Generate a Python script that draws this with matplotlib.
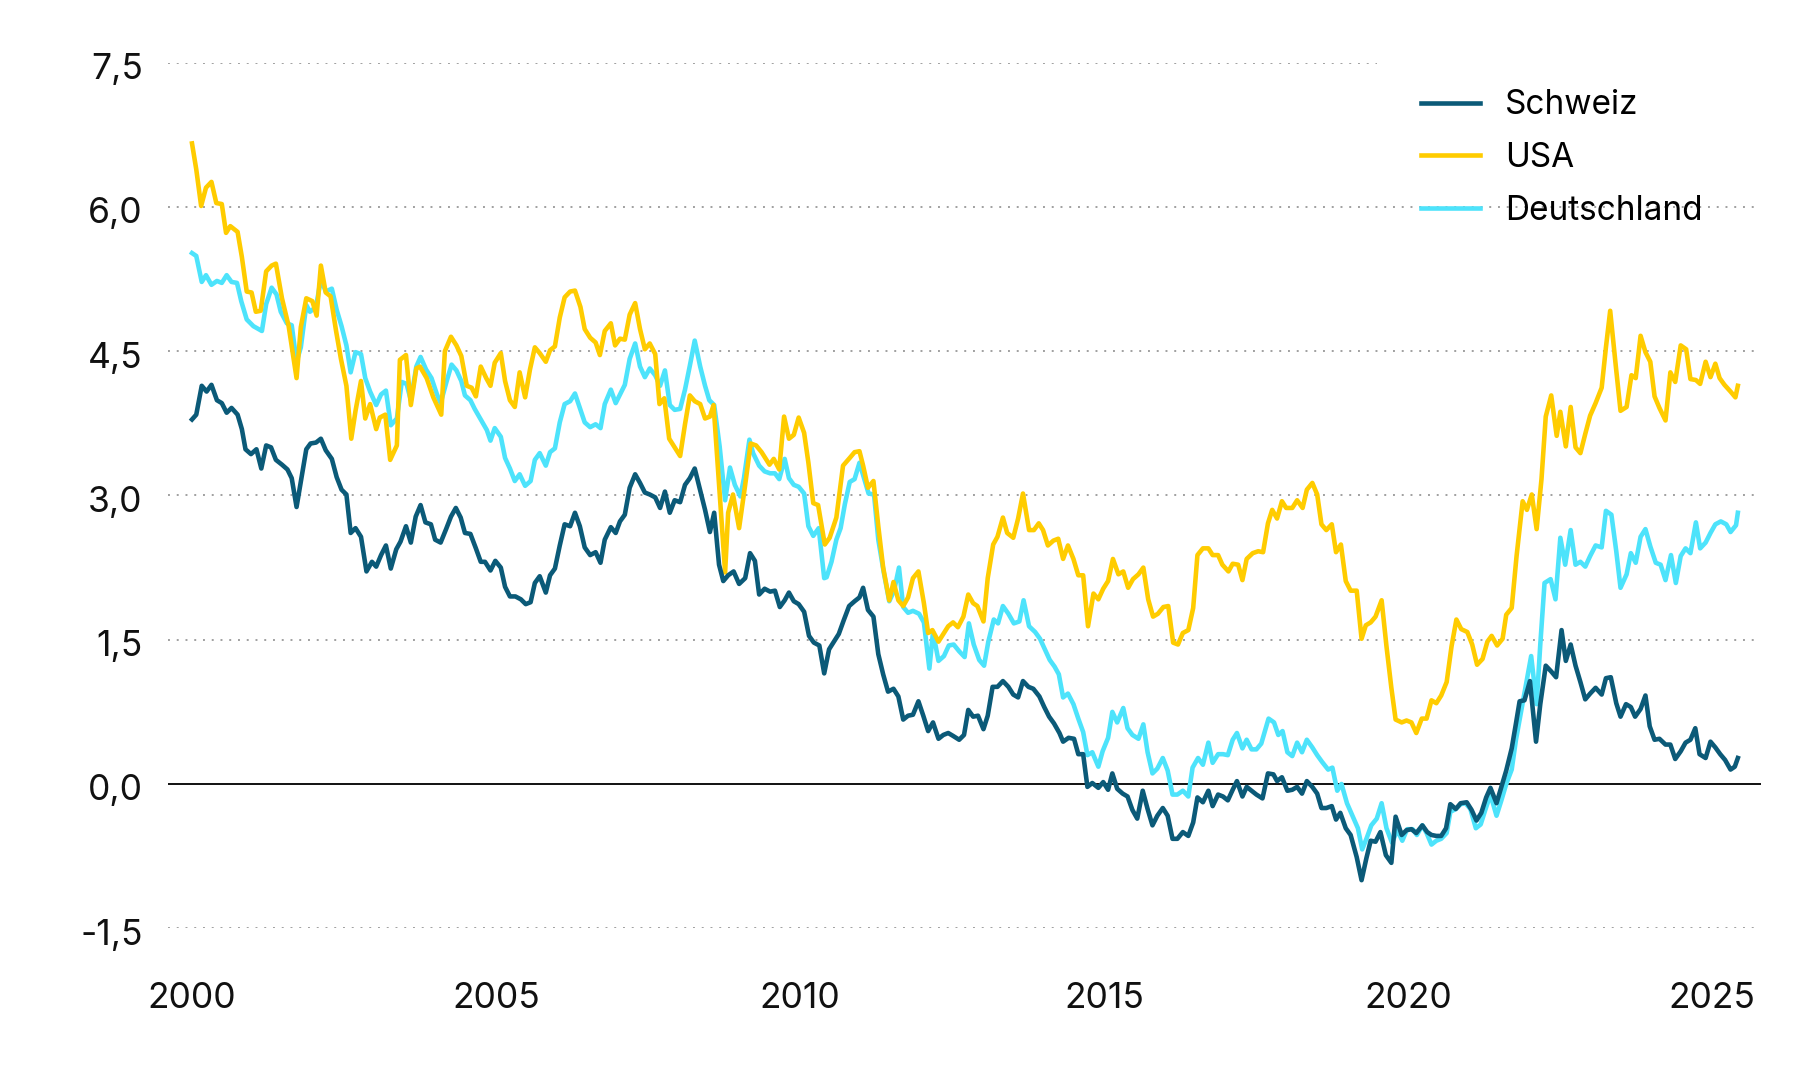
import matplotlib
matplotlib.use("Agg")
import matplotlib.pyplot as plt
import matplotlib.transforms as mtransforms

ch_year = [2000.00, 2000.07, 2000.16, 2000.24, 2000.32, 2000.41, 2000.49, 2000.57, 2000.65, 2000.75,
           2000.82, 2000.88, 2000.97, 2001.06, 2001.14, 2001.22, 2001.30, 2001.38, 2001.48, 2001.57,
           2001.64, 2001.72, 2001.79, 2001.88, 2001.95, 2002.04, 2002.12, 2002.20, 2002.30, 2002.38,
           2002.46, 2002.54, 2002.61, 2002.69, 2002.78, 2002.87, 2002.96, 2003.03, 2003.11, 2003.19,
           2003.27, 2003.36, 2003.43, 2003.52, 2003.60, 2003.68, 2003.76, 2003.84, 2003.93, 2004.00,
           2004.09, 2004.18, 2004.26, 2004.34, 2004.42, 2004.49, 2004.58, 2004.67, 2004.75, 2004.82,
           2004.91, 2004.99, 2005.08, 2005.15, 2005.23, 2005.32, 2005.41, 2005.49, 2005.57, 2005.64,
           2005.72, 2005.82, 2005.89, 2005.97, 2006.05, 2006.13, 2006.22, 2006.30, 2006.38, 2006.46,
           2006.55, 2006.64, 2006.72, 2006.79, 2006.89, 2006.97, 2007.04, 2007.12, 2007.20, 2007.29,
           2007.37, 2007.45, 2007.53, 2007.62, 2007.70, 2007.78, 2007.86, 2007.94, 2008.03, 2008.11,
           2008.19, 2008.27, 2008.36, 2008.44, 2008.52, 2008.59, 2008.67, 2008.74, 2008.82, 2008.91,
           2009.00, 2009.10, 2009.18, 2009.26, 2009.33, 2009.42, 2009.51, 2009.59, 2009.67, 2009.75,
           2009.82, 2009.90, 2009.98, 2010.07, 2010.15, 2010.23, 2010.32, 2010.40, 2010.48, 2010.56,
           2010.64, 2010.72, 2010.81, 2010.90, 2010.98, 2011.04, 2011.12, 2011.21, 2011.29, 2011.37,
           2011.45, 2011.54, 2011.62, 2011.70, 2011.78, 2011.86, 2011.95, 2012.03, 2012.11, 2012.19,
           2012.28, 2012.36, 2012.44, 2012.52, 2012.62, 2012.70, 2012.77, 2012.85, 2012.93, 2013.02,
           2013.09, 2013.17, 2013.25, 2013.34, 2013.43, 2013.51, 2013.59, 2013.67, 2013.76, 2013.84,
           2013.94, 2014.02, 2014.10, 2014.18, 2014.27, 2014.33, 2014.42, 2014.51, 2014.58, 2014.66,
           2014.73, 2014.81, 2014.91, 2014.99, 2015.07, 2015.14, 2015.22, 2015.31, 2015.39, 2015.47,
           2015.55, 2015.64, 2015.72, 2015.80, 2015.88, 2015.97, 2016.05, 2016.13, 2016.21, 2016.30,
           2016.39, 2016.47, 2016.54, 2016.63, 2016.72, 2016.79, 2016.88, 2016.96, 2017.04, 2017.12,
           2017.19, 2017.28, 2017.35, 2017.43, 2017.51, 2017.61, 2017.70, 2017.79, 2017.85, 2017.93,
           2018.02, 2018.10, 2018.18, 2018.26, 2018.34, 2018.43, 2018.51, 2018.58, 2018.66, 2018.75,
           2018.82, 2018.89, 2018.98, 2019.06, 2019.16, 2019.24, 2019.32, 2019.39, 2019.47, 2019.55,
           2019.64, 2019.73, 2019.80, 2019.90, 2019.98, 2020.06, 2020.14, 2020.24, 2020.32, 2020.39,
           2020.47, 2020.55, 2020.63, 2020.70, 2020.79, 2020.87, 2020.97, 2021.05, 2021.13, 2021.21,
           2021.29, 2021.36, 2021.46, 2021.54, 2021.62, 2021.71, 2021.78, 2021.84, 2021.92, 2022.01,
           2022.11, 2022.18, 2022.27, 2022.36, 2022.44, 2022.53, 2022.60, 2022.68, 2022.76, 2022.84,
           2022.92, 2023.00, 2023.09, 2023.19, 2023.26, 2023.34, 2023.43, 2023.50, 2023.59, 2023.67,
           2023.74, 2023.83, 2023.91, 2023.98, 2024.06, 2024.14, 2024.24, 2024.32, 2024.40, 2024.49,
           2024.57, 2024.65, 2024.73, 2024.80, 2024.90, 2024.98, 2025.06, 2025.14, 2025.22, 2025.31,
           2025.38, 2025.43]
ch_val = [3.79, 3.84, 4.14, 4.08, 4.15, 3.99, 3.96, 3.86, 3.91, 3.84,
          3.69, 3.48, 3.43, 3.48, 3.28, 3.52, 3.50, 3.37, 3.32, 3.27,
          3.18, 2.88, 3.14, 3.48, 3.54, 3.55, 3.59, 3.47, 3.38, 3.19,
          3.06, 3.01, 2.61, 2.66, 2.57, 2.21, 2.31, 2.26, 2.38, 2.48,
          2.24, 2.44, 2.52, 2.68, 2.51, 2.78, 2.90, 2.72, 2.70, 2.54,
          2.51, 2.65, 2.78, 2.87, 2.77, 2.61, 2.60, 2.45, 2.31, 2.31,
          2.22, 2.32, 2.25, 2.05, 1.95, 1.95, 1.92, 1.87, 1.89, 2.09,
          2.16, 1.99, 2.17, 2.24, 2.48, 2.70, 2.68, 2.82, 2.68, 2.46,
          2.38, 2.41, 2.30, 2.54, 2.67, 2.61, 2.73, 2.80, 3.08, 3.22,
          3.13, 3.03, 3.01, 2.98, 2.87, 3.04, 2.82, 2.95, 2.93, 3.11,
          3.18, 3.28, 3.05, 2.85, 2.62, 2.82, 2.28, 2.11, 2.17, 2.21,
          2.08, 2.14, 2.40, 2.32, 1.97, 2.03, 2.00, 2.01, 1.84, 1.91,
          1.99, 1.90, 1.87, 1.79, 1.54, 1.47, 1.44, 1.15, 1.40, 1.48,
          1.56, 1.70, 1.85, 1.90, 1.94, 2.04, 1.81, 1.74, 1.35, 1.14,
          0.96, 0.99, 0.91, 0.67, 0.71, 0.72, 0.86, 0.71, 0.55, 0.64,
          0.47, 0.51, 0.53, 0.50, 0.46, 0.51, 0.77, 0.70, 0.71, 0.57,
          0.71, 1.01, 1.01, 1.07, 1.01, 0.93, 0.90, 1.07, 1.01, 0.99,
          0.91, 0.80, 0.70, 0.63, 0.53, 0.44, 0.48, 0.47, 0.31, 0.31,
          -0.03, 0.01, -0.04, 0.02, -0.06, 0.11, -0.05, -0.10, -0.13, -0.27,
          -0.36, -0.07, -0.26, -0.43, -0.33, -0.25, -0.33, -0.57, -0.57, -0.50,
          -0.54, -0.40, -0.14, -0.19, -0.07, -0.23, -0.11, -0.13, -0.17, -0.06,
          0.03, -0.13, -0.03, -0.07, -0.11, -0.15, 0.11, 0.10, 0.03, 0.07,
          -0.07, -0.06, -0.03, -0.10, 0.03, -0.03, -0.10, -0.25, -0.25, -0.23,
          -0.37, -0.30, -0.46, -0.53, -0.76, -1.00, -0.77, -0.59, -0.60, -0.50,
          -0.74, -0.82, -0.34, -0.53, -0.48, -0.47, -0.51, -0.43, -0.50, -0.53,
          -0.54, -0.54, -0.46, -0.21, -0.26, -0.20, -0.19, -0.27, -0.38, -0.30,
          -0.14, -0.04, -0.20, -0.03, 0.14, 0.37, 0.63, 0.86, 0.87, 1.07,
          0.44, 0.83, 1.23, 1.17, 1.11, 1.60, 1.28, 1.45, 1.23, 1.06,
          0.88, 0.94, 1.00, 0.93, 1.10, 1.11, 0.84, 0.70, 0.83, 0.80,
          0.70, 0.78, 0.92, 0.60, 0.46, 0.47, 0.41, 0.41, 0.26, 0.34,
          0.43, 0.46, 0.58, 0.31, 0.27, 0.44, 0.38, 0.31, 0.25, 0.15,
          0.18, 0.27]

us_year = [2000.00, 2000.07, 2000.15, 2000.23, 2000.32, 2000.40, 2000.49, 2000.56, 2000.63, 2000.75,
           2000.82, 2000.90, 2000.98, 2001.05, 2001.13, 2001.22, 2001.31, 2001.38, 2001.48, 2001.59,
           2001.72, 2001.79, 2001.88, 2001.98, 2002.05, 2002.12, 2002.20, 2002.28, 2002.37, 2002.45,
           2002.54, 2002.62, 2002.69, 2002.78, 2002.85, 2002.93, 2003.03, 2003.09, 2003.18, 2003.26,
           2003.37, 2003.42, 2003.52, 2003.60, 2003.69, 2003.75, 2003.86, 2003.97, 2004.10, 2004.16,
           2004.26, 2004.35, 2004.43, 2004.52, 2004.60, 2004.67, 2004.75, 2004.84, 2004.91, 2004.98,
           2005.08, 2005.15, 2005.23, 2005.31, 2005.39, 2005.48, 2005.56, 2005.64, 2005.72, 2005.82,
           2005.89, 2005.97, 2006.05, 2006.13, 2006.22, 2006.30, 2006.39, 2006.46, 2006.55, 2006.64,
           2006.71, 2006.79, 2006.89, 2006.96, 2007.04, 2007.12, 2007.20, 2007.29, 2007.37, 2007.45,
           2007.53, 2007.62, 2007.69, 2007.77, 2007.85, 2007.94, 2008.03, 2008.11, 2008.19, 2008.27,
           2008.36, 2008.44, 2008.52, 2008.58, 2008.77, 2008.82, 2008.90, 2009.00, 2009.10, 2009.19,
           2009.28, 2009.37, 2009.50, 2009.57, 2009.66, 2009.74, 2009.82, 2009.90, 2009.98, 2010.07,
           2010.14, 2010.22, 2010.30, 2010.41, 2010.49, 2010.60, 2010.71, 2010.82, 2010.90, 2010.98,
           2011.04, 2011.12, 2011.21, 2011.29, 2011.37, 2011.47, 2011.54, 2011.62, 2011.70, 2011.78,
           2011.86, 2011.95, 2012.04, 2012.11, 2012.18, 2012.28, 2012.36, 2012.44, 2012.52, 2012.60,
           2012.69, 2012.77, 2012.85, 2012.92, 2013.02, 2013.09, 2013.18, 2013.25, 2013.34, 2013.41,
           2013.51, 2013.59, 2013.67, 2013.77, 2013.85, 2013.93, 2014.00, 2014.08, 2014.17, 2014.25,
           2014.33, 2014.41, 2014.50, 2014.58, 2014.66, 2014.74, 2014.83, 2014.91, 2014.99, 2015.07,
           2015.15, 2015.24, 2015.32, 2015.40, 2015.48, 2015.57, 2015.65, 2015.73, 2015.81, 2015.89,
           2015.98, 2016.06, 2016.14, 2016.22, 2016.30, 2016.39, 2016.47, 2016.54, 2016.63, 2016.72,
           2016.79, 2016.88, 2016.95, 2017.05, 2017.12, 2017.21, 2017.28, 2017.35, 2017.45, 2017.54,
           2017.62, 2017.70, 2017.77, 2017.85, 2017.93, 2018.00, 2018.10, 2018.18, 2018.27, 2018.34,
           2018.43, 2018.51, 2018.58, 2018.66, 2018.75, 2018.82, 2018.90, 2018.98, 2019.06, 2019.16,
           2019.24, 2019.31, 2019.39, 2019.47, 2019.57, 2019.65, 2019.73, 2019.80, 2019.90, 2019.98,
           2020.06, 2020.14, 2020.23, 2020.31, 2020.39, 2020.47, 2020.55, 2020.64, 2020.72, 2020.80,
           2020.88, 2020.98, 2021.06, 2021.14, 2021.23, 2021.31, 2021.38, 2021.47, 2021.56, 2021.62,
           2021.71, 2021.79, 2021.89, 2021.96, 2022.04, 2022.12, 2022.20, 2022.27, 2022.36, 2022.45,
           2022.51, 2022.60, 2022.68, 2022.76, 2022.84, 2022.92, 2023.00, 2023.09, 2023.19, 2023.26,
           2023.33, 2023.42, 2023.50, 2023.60, 2023.68, 2023.75, 2023.83, 2023.91, 2023.99, 2024.06,
           2024.14, 2024.24, 2024.32, 2024.40, 2024.49, 2024.58, 2024.65, 2024.74, 2024.81, 2024.90,
           2024.98, 2025.06, 2025.13, 2025.21, 2025.31, 2025.39, 2025.43]
us_val = [6.66, 6.39, 6.01, 6.20, 6.26, 6.04, 6.03, 5.73, 5.80, 5.74,
          5.48, 5.12, 5.11, 4.91, 4.92, 5.33, 5.39, 5.41, 5.05, 4.76,
          4.22, 4.75, 5.05, 5.02, 4.87, 5.39, 5.11, 5.07, 4.71, 4.42,
          4.14, 3.59, 3.88, 4.19, 3.80, 3.95, 3.69, 3.81, 3.84, 3.37,
          3.52, 4.41, 4.46, 3.94, 4.32, 4.34, 4.22, 4.02, 3.84, 4.50,
          4.65, 4.56, 4.45, 4.14, 4.12, 4.03, 4.34, 4.22, 4.14, 4.38,
          4.48, 4.19, 3.99, 3.92, 4.28, 4.02, 4.31, 4.54, 4.48, 4.39,
          4.51, 4.55, 4.85, 5.06, 5.12, 5.13, 4.96, 4.73, 4.64, 4.59,
          4.46, 4.71, 4.79, 4.56, 4.63, 4.62, 4.88, 5.00, 4.73, 4.52,
          4.58, 4.47, 3.95, 4.01, 3.59, 3.50, 3.41, 3.74, 4.04, 3.98,
          3.95, 3.80, 3.82, 3.94, 2.20, 2.82, 3.01, 2.66, 3.11, 3.54,
          3.52, 3.45, 3.32, 3.38, 3.27, 3.82, 3.59, 3.63, 3.81, 3.65,
          3.34, 2.92, 2.90, 2.49, 2.56, 2.77, 3.31, 3.39, 3.45, 3.46,
          3.31, 3.08, 3.15, 2.68, 2.25, 1.91, 2.10, 1.91, 1.85, 1.94,
          2.14, 2.21, 1.88, 1.57, 1.60, 1.48, 1.56, 1.64, 1.68, 1.63,
          1.74, 1.97, 1.88, 1.85, 1.69, 2.14, 2.49, 2.57, 2.77, 2.61,
          2.56, 2.76, 3.02, 2.64, 2.64, 2.71, 2.64, 2.48, 2.53, 2.55,
          2.34, 2.48, 2.34, 2.17, 2.17, 1.64, 1.98, 1.92, 2.03, 2.11,
          2.34, 2.18, 2.21, 2.04, 2.13, 2.18, 2.25, 1.92, 1.74, 1.77,
          1.84, 1.85, 1.47, 1.45, 1.57, 1.60, 1.83, 2.38, 2.45, 2.45,
          2.38, 2.38, 2.28, 2.21, 2.29, 2.28, 2.12, 2.34, 2.40, 2.42,
          2.41, 2.71, 2.85, 2.76, 2.94, 2.87, 2.87, 2.95, 2.87, 3.06,
          3.13, 3.01, 2.70, 2.64, 2.70, 2.41, 2.49, 2.11, 2.01, 2.01,
          1.51, 1.65, 1.68, 1.74, 1.91, 1.43, 1.00, 0.67, 0.64, 0.66,
          0.64, 0.53, 0.68, 0.68, 0.87, 0.84, 0.92, 1.06, 1.43, 1.71,
          1.61, 1.58, 1.45, 1.24, 1.30, 1.48, 1.54, 1.44, 1.51, 1.76,
          1.83, 2.37, 2.94, 2.85, 3.01, 2.65, 3.17, 3.82, 4.04, 3.62,
          3.87, 3.51, 3.92, 3.50, 3.44, 3.64, 3.83, 3.96, 4.12, 4.54,
          4.92, 4.36, 3.88, 3.92, 4.25, 4.22, 4.66, 4.49, 4.39, 4.03,
          3.91, 3.78, 4.28, 4.18, 4.56, 4.52, 4.21, 4.20, 4.16, 4.39,
          4.23, 4.37, 4.22, 4.15, 4.08, 4.02, 4.14]

de_year = [2000.00, 2000.07, 2000.16, 2000.23, 2000.32, 2000.41, 2000.49, 2000.57, 2000.65, 2000.74,
           2000.81, 2000.90, 2001.01, 2001.15, 2001.22, 2001.31, 2001.39, 2001.46, 2001.56, 2001.64,
           2001.72, 2001.79, 2001.88, 2001.94, 2002.04, 2002.12, 2002.20, 2002.30, 2002.38, 2002.46,
           2002.54, 2002.61, 2002.69, 2002.78, 2002.85, 2002.93, 2003.03, 2003.11, 2003.19, 2003.27,
           2003.37, 2003.45, 2003.53, 2003.60, 2003.69, 2003.76, 2003.85, 2003.94, 2004.03, 2004.09,
           2004.19, 2004.27, 2004.35, 2004.43, 2004.49, 2004.58, 2004.65, 2004.76, 2004.85, 2004.91,
           2004.98, 2005.08, 2005.15, 2005.23, 2005.31, 2005.39, 2005.48, 2005.57, 2005.64, 2005.72,
           2005.82, 2005.89, 2005.97, 2006.05, 2006.13, 2006.22, 2006.30, 2006.38, 2006.46, 2006.55,
           2006.64, 2006.72, 2006.79, 2006.89, 2006.97, 2007.05, 2007.12, 2007.20, 2007.29, 2007.37,
           2007.45, 2007.53, 2007.62, 2007.70, 2007.78, 2007.86, 2007.94, 2008.03, 2008.11, 2008.19,
           2008.27, 2008.36, 2008.44, 2008.51, 2008.59, 2008.68, 2008.77, 2008.85, 2008.93, 2009.02,
           2009.08, 2009.17, 2009.23, 2009.33, 2009.42, 2009.51, 2009.59, 2009.66, 2009.75, 2009.82,
           2009.90, 2009.98, 2010.07, 2010.14, 2010.22, 2010.31, 2010.40, 2010.44, 2010.52, 2010.60,
           2010.67, 2010.74, 2010.82, 2010.90, 2010.98, 2011.05, 2011.13, 2011.22, 2011.29, 2011.38,
           2011.47, 2011.55, 2011.63, 2011.70, 2011.78, 2011.86, 2011.96, 2012.04, 2012.13, 2012.19,
           2012.28, 2012.37, 2012.45, 2012.53, 2012.62, 2012.71, 2012.78, 2012.86, 2012.95, 2013.03,
           2013.10, 2013.19, 2013.26, 2013.34, 2013.43, 2013.52, 2013.61, 2013.68, 2013.77, 2013.87,
           2013.95, 2014.03, 2014.11, 2014.19, 2014.26, 2014.33, 2014.41, 2014.50, 2014.58, 2014.66,
           2014.73, 2014.81, 2014.91, 2014.98, 2015.07, 2015.14, 2015.22, 2015.32, 2015.39, 2015.47,
           2015.57, 2015.65, 2015.72, 2015.80, 2015.88, 2015.97, 2016.05, 2016.13, 2016.21, 2016.30,
           2016.39, 2016.46, 2016.55, 2016.63, 2016.72, 2016.79, 2016.88, 2016.96, 2017.04, 2017.12,
           2017.19, 2017.28, 2017.35, 2017.43, 2017.51, 2017.59, 2017.71, 2017.80, 2017.87, 2017.94,
           2018.02, 2018.10, 2018.18, 2018.26, 2018.34, 2018.43, 2018.51, 2018.59, 2018.69, 2018.76,
           2018.84, 2018.91, 2019.00, 2019.09, 2019.18, 2019.25, 2019.32, 2019.40, 2019.49, 2019.57,
           2019.65, 2019.74, 2019.83, 2019.91, 2019.99, 2020.08, 2020.15, 2020.24, 2020.31, 2020.39,
           2020.47, 2020.55, 2020.64, 2020.70, 2020.79, 2020.87, 2020.95, 2021.03, 2021.12, 2021.20,
           2021.28, 2021.36, 2021.46, 2021.54, 2021.62, 2021.71, 2021.78, 2021.84, 2021.95, 2022.03,
           2022.12, 2022.18, 2022.25, 2022.35, 2022.43, 2022.51, 2022.59, 2022.68, 2022.76, 2022.84,
           2022.92, 2023.00, 2023.09, 2023.19, 2023.26, 2023.35, 2023.43, 2023.50, 2023.60, 2023.67,
           2023.75, 2023.83, 2023.91, 2023.99, 2024.08, 2024.16, 2024.24, 2024.33, 2024.41, 2024.49,
           2024.57, 2024.65, 2024.74, 2024.81, 2024.90, 2024.98, 2025.06, 2025.15, 2025.24, 2025.31,
           2025.40, 2025.43]
de_val = [5.52, 5.49, 5.22, 5.29, 5.19, 5.23, 5.21, 5.29, 5.22, 5.21,
          5.02, 4.83, 4.76, 4.71, 4.99, 5.16, 5.09, 4.91, 4.79, 4.77,
          4.39, 4.54, 4.98, 4.91, 4.96, 5.25, 5.12, 5.15, 4.93, 4.76,
          4.56, 4.28, 4.49, 4.47, 4.22, 4.08, 3.94, 4.05, 4.09, 3.73,
          3.80, 4.18, 4.16, 3.99, 4.34, 4.44, 4.31, 4.22, 4.05, 3.96,
          4.19, 4.36, 4.30, 4.19, 4.04, 3.99, 3.90, 3.78, 3.68, 3.57,
          3.70, 3.61, 3.39, 3.28, 3.15, 3.22, 3.10, 3.15, 3.37, 3.44,
          3.31, 3.45, 3.49, 3.76, 3.95, 3.98, 4.06, 3.91, 3.76, 3.71,
          3.74, 3.70, 3.95, 4.10, 3.96, 4.06, 4.15, 4.42, 4.58, 4.34,
          4.23, 4.32, 4.25, 4.14, 4.30, 3.94, 3.89, 3.90, 4.10, 4.35,
          4.61, 4.34, 4.14, 3.99, 3.94, 3.51, 2.95, 3.29, 3.11, 2.99,
          3.18, 3.58, 3.44, 3.31, 3.25, 3.23, 3.23, 3.17, 3.38, 3.18,
          3.11, 3.09, 3.02, 2.68, 2.58, 2.66, 2.14, 2.15, 2.31, 2.54,
          2.66, 2.91, 3.14, 3.17, 3.34, 3.19, 3.02, 3.01, 2.54, 2.20,
          1.90, 2.01, 2.25, 1.84, 1.78, 1.80, 1.77, 1.68, 1.20, 1.58,
          1.28, 1.33, 1.44, 1.45, 1.38, 1.32, 1.67, 1.45, 1.29, 1.23,
          1.48, 1.71, 1.67, 1.85, 1.77, 1.67, 1.69, 1.91, 1.64, 1.58,
          1.51, 1.40, 1.29, 1.22, 1.14, 0.90, 0.94, 0.83, 0.68, 0.54,
          0.30, 0.33, 0.18, 0.34, 0.48, 0.75, 0.64, 0.79, 0.58, 0.51,
          0.47, 0.62, 0.33, 0.11, 0.16, 0.27, 0.14, -0.11, -0.11, -0.07,
          -0.13, 0.17, 0.27, 0.20, 0.43, 0.22, 0.31, 0.31, 0.30, 0.46,
          0.53, 0.37, 0.46, 0.36, 0.36, 0.42, 0.68, 0.64, 0.51, 0.55,
          0.33, 0.29, 0.43, 0.33, 0.46, 0.38, 0.30, 0.23, 0.15, 0.17,
          -0.07, 0.00, -0.20, -0.33, -0.46, -0.68, -0.57, -0.43, -0.36, -0.20,
          -0.46, -0.61, -0.48, -0.59, -0.47, -0.47, -0.53, -0.43, -0.51, -0.63,
          -0.59, -0.57, -0.51, -0.29, -0.26, -0.21, -0.20, -0.26, -0.46, -0.42,
          -0.26, -0.11, -0.33, -0.17, 0.00, 0.15, 0.46, 0.67, 1.06, 1.33,
          0.83, 1.45, 2.09, 2.13, 1.92, 2.56, 2.28, 2.64, 2.28, 2.31,
          2.26, 2.37, 2.48, 2.46, 2.84, 2.80, 2.42, 2.04, 2.18, 2.40,
          2.30, 2.57, 2.65, 2.47, 2.30, 2.28, 2.12, 2.38, 2.09, 2.37,
          2.45, 2.40, 2.72, 2.45, 2.51, 2.61, 2.70, 2.73, 2.70, 2.62,
          2.69, 2.82]

x_ticks = [2000, 2005, 2010, 2015, 2020, 2025]
y_ticks = [-1.5, 0.0, 1.5, 3.0, 4.5, 6.0, 7.5]

col_ch = "#0b5a78"
col_us = "#ffcc00"
col_de = "#4de3fb"

plt.rcParams['font.family'] = ['Inter', 'DejaVu Sans']

fig = plt.figure(figsize=(18, 10.8), dpi=100)
ax = fig.add_axes([0.0935, 0.1405, 0.8848, 0.8015])

for spine in ax.spines.values():
    spine.set_visible(False)

# gepunktete Gitterlinien, die oberste endet vor der Legende
for yv in y_ticks:
    if yv == 0.0:
        ax.axhline(0, color="#111111", lw=1.4, zorder=1)
    elif yv == 7.5:
        ax.axhline(yv, xmin=0, xmax=0.759, color="#a0a0a0", lw=1.4, dashes=(1, 3.5), zorder=1)
    else:
        ax.axhline(yv, xmin=0, xmax=0.998, color="#a0a0a0", lw=1.4, dashes=(1, 3.5), zorder=1)

ax.plot(de_year, de_val, color=col_de, lw=3.3, label="Deutschland", zorder=3, solid_joinstyle="round")
ax.plot(us_year, us_val, color=col_us, lw=3.3, label="USA", zorder=3, solid_joinstyle="round")
ax.plot(ch_year, ch_val, color=col_ch, lw=3.3, label="Schweiz", zorder=4, solid_joinstyle="round")

ax.set_xlim(1999.61, 2025.81)
ax.set_ylim(-1.5, 7.5)
ax.set_xticks(x_ticks)
ax.set_xticklabels([str(x) for x in x_ticks])
ax.set_yticks(y_ticks)
ax.set_yticklabels([f"{v:.1f}".replace(".", ",") for v in y_ticks])
ax.tick_params(axis="both", length=0, labelsize=25.5, colors="#111111")
ax.tick_params(axis="y", pad=18.4)
ax.tick_params(axis="x", pad=39)

# y-Beschriftung leicht unter die Linie setzen
shift = mtransforms.ScaledTranslation(0, -2.5 / 72, fig.dpi_scale_trans)
for lab in ax.get_yticklabels():
    lab.set_transform(lab.get_transform() + shift)

handles, labels = ax.get_legend_handles_labels()
order = [2, 1, 0]
ax.legend([handles[i] for i in order], [labels[i] for i in order],
          loc="upper left", bbox_to_anchor=(0.7867, 0.9692), frameon=False,
          fontsize=24, handlelength=1.76, handletextpad=0.75, labelspacing=0.62,
          borderaxespad=0, borderpad=0)

fig.savefig("out.png", dpi=100, facecolor="white")
